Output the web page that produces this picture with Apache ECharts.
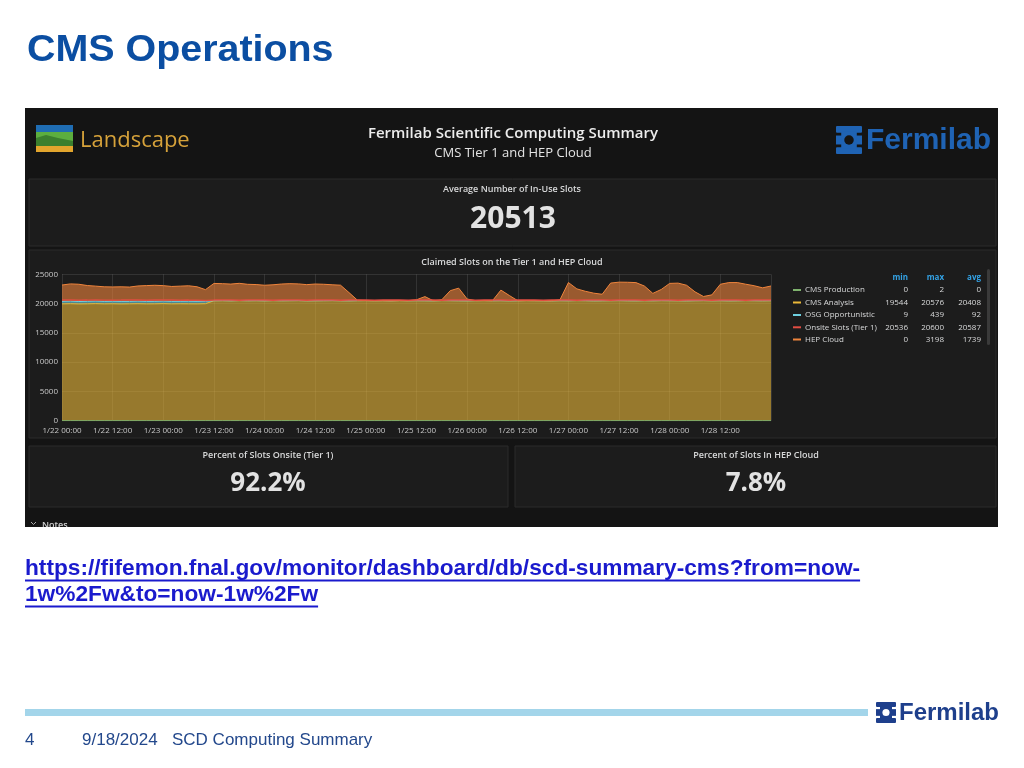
<!DOCTYPE html>
<html><head><meta charset="utf-8">
<script src="https://cdn.jsdelivr.net/npm/echarts@6/dist/echarts.min.js"></script>
<style>html,body{margin:0;padding:0;background:#fff}#c{width:1024px;height:768px}</style>
</head><body><div id="c"></div>
<script>
// ---- data ----
const hours = [0,2,4,6,8,10,12,14,16,18,20,22,24,26,28,30,32,34,36,38,40,42,44,46,48,50,52,54,56,58,60,62,64,66,68,70,72,74,76,78,80,82,84,86,88,90,92,94,96,98,100,102,104,106,108,110,112,114,116,118,120,122,124,126,128,130,132,134,136,138,140,142,144,146,148,150,152,154,156,158,160,162,164,166,168];
const xTickLabels = ['1/22 00:00','1/22 12:00','1/23 00:00','1/23 12:00','1/24 00:00','1/24 12:00','1/25 00:00','1/25 12:00','1/26 00:00','1/26 12:00','1/27 00:00','1/27 12:00','1/28 00:00','1/28 12:00'];
const cmsProduction = [0,0,0,0,0,0,0,0,0,0,0,0,0,0,0,0,0,0,0,0,0,0,0,0,0,0,0,0,0,0,0,0,0,0,0,0,0,0,0,0,0,0,0,0,0,0,0,0,0,0,0,0,0,0,0,0,0,0,0,0,0,0,0,0,0,0,0,0,0,0,0,0,0,0,0,0,0,0,0,0,0,0,0,0,0];
const cmsAnalysis = [19950,19980,19940,19960,19990,19950,19970,19940,19960,19980,19950,19960,19990,19950,19970,19960,19950,19980,20480,20490,20470,20500,20480,20490,20470,20500,20480,20490,20500,20470,20480,20490,20500,20480,20470,20490,20500,20480,20490,20470,20500,20480,20490,20480,20470,20500,20490,20480,20470,20490,20500,20480,20490,20470,20480,20500,20490,20480,20470,20490,20480,20500,20490,20470,20480,20490,20500,20480,20470,20490,20480,20500,20490,20480,20470,20490,20500,20480,20490,20470,20480,20500,20490,20480,20490];
const osgOpportunistic = [420,430,410,420,439,415,420,425,410,430,420,415,425,420,410,430,420,400,10,12,9,10,11,10,12,9,10,11,10,12,10,9,11,10,12,10,9,10,11,10,12,10,9,11,10,10,12,9,10,11,10,12,10,9,11,10,10,12,9,10,11,10,12,10,9,11,10,10,12,9,10,11,10,12,10,9,11,10,10,12,9,10,11,10,12];
const onsiteSlots = [20590,20595,20585,20590,20600,20590,20580,20590,20595,20590,20585,20590,20595,20590,20585,20590,20580,20536,20590,20595,20590,20585,20590,20595,20590,20585,20590,20595,20590,20585,20590,20595,20590,20585,20590,20595,20590,20585,20590,20595,20590,20585,20590,20595,20590,20585,20590,20595,20590,20585,20590,20595,20590,20585,20590,20595,20590,20585,20590,20595,20590,20585,20590,20595,20590,20585,20590,20595,20590,20585,20590,20595,20590,20585,20590,20595,20590,20585,20590,20595,20590,20585,20590,20595,20590];
const hepCloud = [2800,2950,2950,2700,2550,2500,2450,2500,2450,2600,2700,2750,2650,2550,2600,2650,2500,2000,2950,2900,2850,2950,2800,2750,2650,2700,2850,2900,2850,2750,2850,2800,2700,2650,1400,80,0,0,0,0,0,0,150,700,0,150,1700,2150,300,0,0,0,1800,900,0,0,0,0,0,150,3100,2000,1600,1300,1100,3000,3150,3150,3100,2500,1250,1900,2950,3000,2650,1500,700,1000,2800,3100,3100,2800,2550,2200,2500];
const legendNames = ['CMS Production','CMS Analysis','OSG Opportunistic','Onsite Slots (Tier 1)','HEP Cloud'];
const legendColors = ['#7EB26D','#EAB839','#6ED0E0','#E24D42','#EF843C'];
const statMin = ['0','19544','9','20536','0'];
const statMax = ['2','20576','439','20600','3198'];
const statAvg = ['0','20408','92','20587','1739'];
const avgSlots = '20513';
const pctOnsite = '92.2%';
const pctHep = '7.8%';

// ---- helpers ----
const OS = "'Open Sans', 'Noto Sans', sans-serif";
const AR = "'Liberation Sans', Arial, sans-serif";
function txt(text, x, y, font, fill, align, va, z, sx) {
  return {type:'text', x:x, y:y, z:(z==null?100:z), silent:true, scaleX:sx||1,
    style:{text:text, font:font, fill:fill, align:align||'left', textAlign:align||'left',
           verticalAlign:va||'middle', textVerticalAlign:va||'middle'}};
}
function rect(x,y,w,h,fill,stroke,z,r) {
  return {type:'rect', z:(z==null?-10:z), silent:true, shape:{x:x,y:y,width:w,height:h,r:r||0},
    style:{fill:fill, stroke:stroke||null, lineWidth:stroke?1:0}};
}
function circ(cx,cy,r,fill,z){return {type:'circle', z:z, silent:true, shape:{cx:cx,cy:cy,r:r}, style:{fill:fill}};}
function fermiIcon(x,y,w,h,col,bg,z){
  return [
    rect(x, y, w, h*0.24, col, null, z, 1),
    rect(x, y+h*0.76, w, h*0.24, col, null, z, 1),
    rect(x, y+h*0.34, w*0.26, h*0.32, col, null, z),
    rect(x+w*0.74, y+h*0.34, w*0.26, h*0.32, col, null, z),
    rect(x+w*0.2, y+h*0.2, w*0.6, h*0.6, col, null, z),
    rect(x-1, y+h*0.26, w*0.2, h*0.05, bg, null, z+1),
    rect(x+w*0.8+1, y+h*0.26, w*0.2, h*0.05, bg, null, z+1),
    rect(x-1, y+h*0.69, w*0.2, h*0.05, bg, null, z+1),
    rect(x+w*0.8+1, y+h*0.69, w*0.2, h*0.05, bg, null, z+1),
    circ(x+w/2, y+h/2, h*0.17, bg, z+2)
  ];
}
const cvs = document.createElement('canvas').getContext('2d');
function measure(t, font){ cvs.font = font; return cvs.measureText(t).width; }

// ---- graphic layout ----
const els = [];
els.push(txt('CMS Operations', 27, 51, 'bold 37px '+AR, '#0b4ea2', 'left', 'middle', 100, 1.065));
els.push(rect(25,108,973,419,'#141414',null,-20));
els.push(rect(29,179,967,67,'#1c1c1c','#2a2a2a',-15));
els.push(rect(29,250,967,188,'#1c1c1c','#2a2a2a',-15));
els.push(rect(29,446,479,61,'#1c1c1c','#2a2a2a',-15));
els.push(rect(515,446,481,61,'#1c1c1c','#2a2a2a',-15));
// Landscape logo
els.push(rect(36,125,37,7,'#1f6db3',null,50));
els.push(rect(36,132,37,14,'#5cae3f',null,50));
els.push({type:'polygon', z:51, silent:true, shape:{points:[[36,146],[36,138],[46,135],[58,138],[73,141],[73,146]]}, style:{fill:'#3b7f2e'}});
els.push(rect(36,146,37,6,'#e2a52d',null,52));
els.push(txt('Landscape', 80, 141, '22px '+OS, '#d6a23a'));
els.push(txt('Fermilab Scientific Computing Summary', 513, 134, '600 15px '+OS, '#ececec', 'center'));
els.push(txt('CMS Tier 1 and HEP Cloud', 513, 153, '13px '+OS, '#e4e4e4', 'center'));
fermiIcon(836,126,26,28,'#1f63b4','#141414',50).forEach(e=>els.push(e));
els.push(txt('Fermilab', 866, 141, 'bold 30px '+AR, '#1f63b4'));
// panel 1
els.push(txt('Average Number of In-Use Slots', 512, 189, '600 9px '+OS, '#d8d9da', 'center'));
els.push(txt(avgSlots, 513, 219, 'bold 30px '+OS, '#e2e2e2', 'center'));
// graph title
els.push(txt('Claimed Slots on the Tier 1 and HEP Cloud', 512, 262, '600 9px '+OS, '#d8d9da', 'center'));
// legend table
els.push(txt('min', 908, 278, 'bold 8px '+OS, '#33a2e5', 'right'));
els.push(txt('max', 944, 278, 'bold 8px '+OS, '#33a2e5', 'right'));
els.push(txt('avg', 981, 278, 'bold 8px '+OS, '#33a2e5', 'right'));
const rowY = [290, 302.5, 315, 327.3, 339.5];
legendNames.forEach((n,i)=>{
  els.push(rect(793, rowY[i]-1, 8, 2, legendColors[i], null, 100));
  els.push(txt(n, 805, rowY[i], '8px '+OS, '#d8d9da'));
  els.push(txt(statMin[i], 908, rowY[i], '8px '+OS, '#d8d9da', 'right'));
  els.push(txt(statMax[i], 944, rowY[i], '8px '+OS, '#d8d9da', 'right'));
  els.push(txt(statAvg[i], 981, rowY[i], '8px '+OS, '#d8d9da', 'right'));
});
els.push(rect(987,269,3,76,'#3a3a3a',null,100,1.5));
// panels 3 & 4
els.push(txt('Percent of Slots Onsite (Tier 1)', 268, 455, '600 9px '+OS, '#d8d9da', 'center'));
els.push(txt(pctOnsite, 268, 484, 'bold 26px '+OS, '#e2e2e2', 'center'));
els.push(txt('Percent of Slots In HEP Cloud', 756, 455, '600 9px '+OS, '#d8d9da', 'center'));
els.push(txt(pctHep, 756, 484, 'bold 26px '+OS, '#e2e2e2', 'center'));
// notes (cut off)
els.push({type:'polyline', z:100, silent:true, shape:{points:[[31,522],[33.5,524.5],[36,522]]}, style:{stroke:'#aaaaaa', lineWidth:1, fill:null}});
els.push(txt('Notes', 42, 525, '600 9px '+OS, '#cfcfcf'));
els.push(rect(20,527,990,12,'#ffffff',null,110));
// link
const linkFont = 'bold 22.7px '+AR;
const link1 = 'https://fifemon.fnal.gov/monitor/dashboard/db/scd-summary-cms?from=now-';
const link2 = '1w%2Fw&to=now-1w%2Fw';
els.push(txt(link1, 25, 569, linkFont, '#1a1acd'));
els.push(txt(link2, 25, 595, linkFont, '#1a1acd'));
els.push(rect(25, 579.5, measure(link1, linkFont), 2, '#1a1acd', null, 100));
els.push(rect(25, 605.5, measure(link2, linkFont), 2, '#1a1acd', null, 100));
// footer
els.push(rect(25,709,843,7,'#a3d5ea',null,0));
fermiIcon(876,702,20,21,'#1e3f8c','#ffffff',50).forEach(e=>els.push(e));
els.push(txt('Fermilab', 899, 713, 'bold 24px '+AR, '#1e3f8c'));
els.push(txt('4', 25, 740, '17px '+AR, '#23488c'));
els.push(txt('9/18/2024', 82, 740, '17px '+AR, '#23488c'));
els.push(txt('SCD Computing Summary', 172, 740, '17px '+AR, '#23488c'));

// ---- chart ----
function lineSeries(name, vals, color, stack, fill, width, z){
  const s = {name:name, type:'line', data:vals, showSymbol:false, symbol:'none', smooth:false,
    lineStyle:{color:color, width:width||1}, itemStyle:{color:color}, z:z||2};
  if (stack) s.stack = stack;
  if (fill) s.areaStyle = {color:fill, opacity:1};
  return s;
}
const chart = echarts.init(document.getElementById('c'), null, {renderer:'canvas'});
chart.setOption({
  animation:false,
  backgroundColor:'#ffffff',
  graphic:{elements:els},
  grid:{left:62, right:253, top:274.3, bottom:347.3, containLabel:false},
  xAxis:{type:'category', data:hours.map(String), boundaryGap:false,
    axisLine:{show:false}, axisTick:{show:false},
    axisLabel:{color:'#c8c8c8', fontSize:8, fontFamily:OS, margin:6, interval:5,
      formatter:function(v, idx){ return xTickLabels[Math.round(idx/6)] || ''; }},
    splitLine:{show:true, interval:5, lineStyle:{color:'rgba(255,255,255,0.10)', width:1}}},
  yAxis:{type:'value', min:0, max:25000, interval:5000,
    axisLine:{show:false}, axisTick:{show:false},
    axisLabel:{color:'#c8c8c8', fontSize:8, fontFamily:OS, margin:4, formatter:function(v){return String(v);}},
    splitLine:{show:true, lineStyle:{color:'rgba(255,255,255,0.10)', width:1}}},
  series:[
    lineSeries(legendNames[0], cmsProduction, legendColors[0], 's', null, 1, 3),
    lineSeries(legendNames[1], cmsAnalysis, legendColors[1], 's', 'rgba(234,184,57,0.6)', 1, 3),
    lineSeries(legendNames[2], osgOpportunistic, legendColors[2], 's', 'rgba(110,208,224,0.6)', 1, 3),
    lineSeries(legendNames[4], hepCloud, legendColors[4], 's', 'rgba(239,132,60,0.6)', 1, 3),
    lineSeries(legendNames[3], onsiteSlots, legendColors[3], null, null, 1.5, 4)
  ]
});
</script></body></html>
